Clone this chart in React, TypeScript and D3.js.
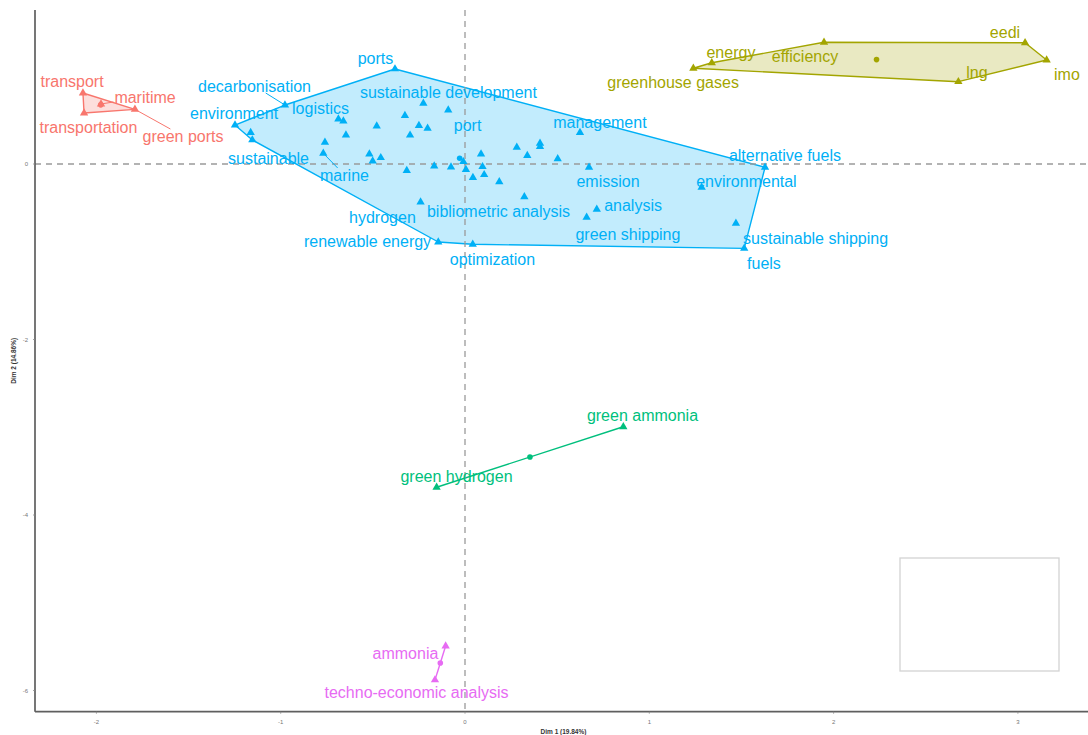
import React, { useMemo } from "react";
import * as d3 from "d3";

// ---------- DATA (MCA coordinates) ----------
const xTicks = [-2, -1, 0, 1, 2, 3];
const yTicks = [0, -2, -4, -6];
const xTitle = "Dim 1 (19.84%)";
const yTitle = "Dim 2 (14.86%)";

// cluster 1 (red)
const c1Names = ["transport", "transportation", "maritime", "green ports"];
const c1Dim1 = [-2.073, -2.067, -1.975, -1.791];
const c1Dim2 = [0.809, 0.581, 0.684, 0.623];

// cluster 2 (olive)
const c2Names = ["greenhouse gases", "energy", "efficiency", "eedi", "imo", "lng"];
const c2Dim1 = [1.239, 1.339, 1.948, 3.039, 3.156, 2.677];
const c2Dim2 = [1.091, 1.154, 1.387, 1.382, 1.185, 0.938];

// cluster 3 (green)
const c3Names = ["green ammonia", "green hydrogen"];
const c3Dim1 = [0.859, -0.154];
const c3Dim2 = [-2.994, -3.684];

// cluster 4 (blue)
const c4Names = [
  "environment", "decarbonisation", "ports", "", "sustainable development", "", "logistics", "", "", "",
  "", "", "", "", "sustainable", "", "marine", "", "", "",
  "", "", "", "port", "", "", "", "", "", "",
  "", "", "", "", "", "management", "emission", "bibliometric analysis", "hydrogen", "analysis",
  "green shipping", "environmental", "sustainable shipping", "fuels", "alternative fuels", "renewable energy", "optimization",
];
const c4Dim1 = [
  -1.248, -0.977, -0.38, -0.226, -0.091, -0.687, -0.66, -0.326, -0.479, -0.25,
  -0.203, -0.646, -0.298, -1.163, -1.154, -0.76, -0.769, -0.519, -0.501, -0.457,
  -0.316, -0.167, -0.076, -0.009, 0.005, 0.087, 0.095, 0.043, 0.104, 0.186,
  0.281, 0.407, 0.407, 0.338, 0.503, 0.624, 0.673, 0.322, -0.241, 0.715,
  0.66, 1.284, 1.47, 1.515, 1.628, -0.145, 0.042,
];
const c4Dim2 = [
  0.444, 0.672, 1.083, 0.692, 0.615, 0.513, 0.49, 0.553, 0.433, 0.439,
  0.407, 0.33, 0.328, 0.357, 0.274, 0.247, 0.122, 0.114, 0.034, 0.072,
  -0.074, -0.023, -0.036, 0.026, -0.063, 0.112, -0.031, -0.154, -0.122, -0.202,
  0.191, 0.236, 0.199, 0.095, 0.06, 0.357, -0.038, -0.373, -0.435, -0.516,
  -0.607, -0.266, -0.676, -0.961, -0.038, -0.889, -0.915,
];

// cluster 5 (magenta)
const c5Names = ["ammonia", "techno-economic analysis"];
const c5Dim1 = [-0.105, -0.163];
const c5Dim2 = [-5.493, -5.88];

// repelled label positions (centres, in Dim units)
const labelNames = [
  "transport", "maritime", "transportation", "green ports",
  "energy", "efficiency", "greenhouse gases", "eedi", "lng", "imo",
  "ports", "decarbonisation", "sustainable development", "environment", "logistics", "port",
  "management", "sustainable", "marine", "alternative fuels", "emission", "environmental",
  "hydrogen", "bibliometric analysis", "analysis", "green shipping", "renewable energy",
  "sustainable shipping", "optimization", "fuels",
  "green ammonia", "green hydrogen", "ammonia", "techno-economic analysis",
];
const labelDim1 = [
  -2.132, -1.736, -2.043, -1.53,
  1.443, 1.845, 1.129, 2.93, 2.778, 3.266,
  -0.486, -1.142, -0.09, -1.253, -0.784, 0.014,
  0.732, -1.066, -0.654, 1.736, 0.776, 1.527,
  -0.448, 0.182, 0.912, 0.884, -0.529,
  1.902, 0.149, 1.622,
  0.963, -0.046, -0.323, -0.263,
];
const labelDim2 = [
  0.946, 0.764, 0.422, 0.319,
  1.276, 1.231, 0.934, 1.504, 1.048, 1.026,
  1.208, 0.889, 0.821, 0.581, 0.638, 0.444,
  0.479, 0.068, -0.125, 0.103, -0.194, -0.194,
  -0.604, -0.536, -0.467, -0.798, -0.877,
  -0.843, -1.083, -1.128,
  -2.86, -3.556, -5.573, -6.017,
];
const leaderLabels = ["decarbonisation", "marine", "maritime", "green ports"];

// ---------- STYLE ----------
const W = 1088;
const H = 735;
const colors = ["#F8766D", "#A3A500", "#00BF7D", "#00B0F6", "#E76BF3"];
const FONT = "'Liberation Sans', Arial, Helvetica, sans-serif";
const LABEL_SIZE = 16;

const clusters = [
  { names: c1Names, d1: c1Dim1, d2: c1Dim2 },
  { names: c2Names, d1: c2Dim1, d2: c2Dim2 },
  { names: c3Names, d1: c3Dim1, d2: c3Dim2 },
  { names: c4Names, d1: c4Dim1, d2: c4Dim2 },
  { names: c5Names, d1: c5Dim1, d2: c5Dim2 },
];

export default function App() {
  const left = 35, right = 1088, top = 10, bottom = 711.7;
  const x = d3.scaleLinear().domain([-2.3332, 3.3804]).range([left, right]);
  const y = d3.scaleLinear().domain([-6.2416, 1.755]).range([bottom, top]);
  const tri = d3.symbol().type(d3.symbolTriangle).size(30)() as string;

  const measure = useMemo(() => {
    const c = document.createElement("canvas").getContext("2d")!;
    c.font = `${LABEL_SIZE}px ${FONT}`;
    return (s: string) => c.measureText(s).width;
  }, []);

  const hulls = clusters.map((cl, ci) => {
    const pts: [number, number][] = cl.d1.map((v, i) => [x(v), y(cl.d2[i])]);
    const hull = pts.length >= 3 ? d3.polygonHull(pts) : pts;
    const cx = d3.mean(pts, (p) => p[0])!;
    const cy = d3.mean(pts, (p) => p[1])!;
    return { pts, hull: hull!, cx, cy, color: colors[ci] };
  });

  // lookup point & cluster per label
  const pointOf = (name: string) => {
    for (let ci = 0; ci < clusters.length; ci++) {
      const idx = clusters[ci].names.indexOf(name);
      if (idx >= 0) return { ci, px: x(clusters[ci].d1[idx]), py: y(clusters[ci].d2[idx]) };
    }
    return null;
  };

  const labels = labelNames.map((name, i) => {
    const p = pointOf(name)!;
    const lx = x(labelDim1[i]);
    const ly = y(labelDim2[i]);
    let seg: number[] | null = null;
    if (leaderLabels.includes(name)) {
      const hw = measure(name) / 2 + 1;
      const hh = 7;
      const dx = p.px - lx, dy = p.py - ly;
      const s = Math.min(hw / Math.abs(dx || 1e-6), hh / Math.abs(dy || 1e-6));
      if (s < 1) seg = [p.px, p.py, lx + s * dx, ly + s * dy];
    }
    return { name, lx, ly, color: colors[p.ci], seg };
  });

  return (
    <svg width={W} height={H} style={{ position: "absolute", left: 0, top: 0, background: "#fff" }}>
      <rect x={0} y={0} width={W} height={H} fill="#fff" />
      {/* hulls */}
      {hulls.map((h, i) =>
        h.hull.length >= 3 ? (
          <path
            key={"h" + i}
            d={"M" + h.hull.map((p) => p.join(",")).join("L") + "Z"}
            fill={h.color}
            fillOpacity={0.24}
            stroke={h.color}
            strokeWidth={1.4}
            strokeLinejoin="round"
          />
        ) : (
          <line
            key={"h" + i}
            x1={h.hull[0][0]}
            y1={h.hull[0][1]}
            x2={h.hull[1][0]}
            y2={h.hull[1][1]}
            stroke={h.color}
            strokeWidth={1.4}
          />
        )
      )}
      {/* reference lines */}
      <line x1={left} x2={right} y1={y(0)} y2={y(0)} stroke="#9a9a9a" strokeWidth={1.3} strokeDasharray="6,5" />
      <line x1={x(0)} x2={x(0)} y1={top} y2={bottom} stroke="#9a9a9a" strokeWidth={1.3} strokeDasharray="6,5" />
      {/* points */}
      {hulls.map((h, i) => (
        <g key={"p" + i} fill={h.color}>
          {h.pts.map((p, j) => (
            <path key={j} d={tri} transform={`translate(${p[0]},${p[1]})`} />
          ))}
          <circle cx={h.cx} cy={h.cy} r={2.8} />
        </g>
      ))}
      {/* leader segments */}
      {labels.map((l, i) =>
        l.seg ? (
          <line key={"s" + i} x1={l.seg[0]} y1={l.seg[1]} x2={l.seg[2]} y2={l.seg[3]} stroke={l.color} strokeWidth={1} />
        ) : null
      )}
      {/* labels */}
      {labels.map((l, i) => (
        <text
          key={"l" + i}
          x={l.lx}
          y={l.ly}
          dy="0.35em"
          textAnchor="middle"
          fill={l.color}
          fontFamily={FONT}
          fontSize={LABEL_SIZE}
        >
          {l.name}
        </text>
      ))}
      {/* axes */}
      <line x1={left} x2={left} y1={top} y2={bottom} stroke="#5f5f5f" strokeWidth={1.7} />
      <line x1={left} x2={right} y1={bottom} y2={bottom} stroke="#5f5f5f" strokeWidth={1.7} />
      {xTicks.map((t) => (
        <g key={"xt" + t}>
          <line x1={x(t)} x2={x(t)} y1={bottom} y2={bottom + 2} stroke="#8a8a8a" strokeWidth={0.8} />
          <text x={x(t)} y={bottom + 12} textAnchor="middle" fontSize={6} fill="#777" fontFamily={FONT}>
            {t}
          </text>
        </g>
      ))}
      {yTicks.map((t) => (
        <g key={"yt" + t}>
          <line x1={left - 2} x2={left} y1={y(t)} y2={y(t)} stroke="#8a8a8a" strokeWidth={0.8} />
          <text x={left - 7} y={y(t)} dy="0.35em" textAnchor="end" fontSize={6} fill="#777" fontFamily={FONT}>
            {t}
          </text>
        </g>
      ))}
      <text x={(left + right) / 2 + 2} y={734} textAnchor="middle" fontSize={6.5} fontWeight="bold" fill="#333" fontFamily={FONT}>
        {xTitle}
      </text>
      <text
        transform={`translate(16,${(top + bottom) / 2}) rotate(-90)`}
        textAnchor="middle"
        fontSize={6.5}
        fontWeight="bold"
        fill="#333"
        fontFamily={FONT}
      >
        {yTitle}
      </text>
      {/* empty legend box */}
      <rect x={900} y={558} width={159} height={113} fill="#fff" stroke="#d3d3d3" strokeWidth={1.3} />
    </svg>
  );
}
